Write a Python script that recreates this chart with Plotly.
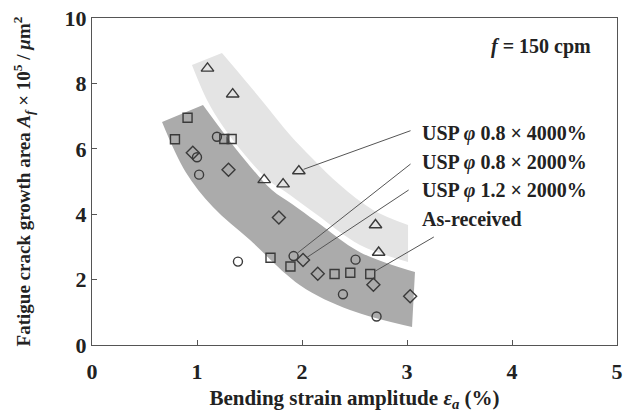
import plotly.graph_objects as go

# ---- data ----
strain_4000 = [1.10, 1.34, 1.64, 1.82, 1.97, 2.70, 2.73]
area_4000 = [8.46, 7.67, 5.05, 4.92, 5.32, 3.67, 2.83]

strain_08_2000 = [1.19, 1.00, 1.02, 1.39, 1.92, 2.51, 2.39, 2.71]
area_08_2000 = [6.37, 5.74, 5.21, 2.55, 2.72, 2.61, 1.55, 0.87]

strain_12_2000 = [0.96, 1.30, 1.78, 2.01, 2.15, 2.68, 3.03]
area_12_2000 = [5.88, 5.36, 3.90, 2.60, 2.18, 1.84, 1.49]

strain_asr = [0.91, 0.79, 1.26, 1.33, 1.70, 1.89, 2.31, 2.46, 2.65]
area_asr = [6.95, 6.29, 6.30, 6.30, 2.67, 2.40, 2.17, 2.21, 2.17]

# scatter bands (edges)
light_lower_x = [0.952, 1.095, 1.238, 1.457, 1.676, 1.886, 2.143, 2.552, 3.010]
light_lower_y = [8.56, 7.49, 6.73, 5.81, 5.05, 4.59, 3.98, 3.06, 2.54]
light_upper_x = [1.238, 1.457, 1.676, 1.886, 2.095, 2.362, 2.676, 3.010]
light_upper_y = [8.93, 8.10, 7.25, 6.42, 5.72, 4.89, 4.13, 3.67]

dark_lower_x = [0.667, 0.890, 1.152, 1.505, 1.981, 2.457, 3.048]
dark_lower_y = [6.82, 5.30, 4.22, 3.21, 1.83, 1.07, 0.55]
dark_upper_x = [1.057, 1.305, 1.505, 1.714, 1.905, 2.143, 2.552, 3.076]
dark_upper_y = [7.34, 6.27, 5.47, 4.74, 4.31, 3.76, 2.84, 2.23]

# labels with leader lines
label_texts = ["USP <i>φ</i> 0.8 × 4000%", "USP <i>φ</i> 0.8 × 2000%",
               "USP <i>φ</i> 1.2 × 2000%", "As-received"]
label_x = [3.124, 3.124, 3.124, 3.124]
label_y = [6.48, 5.57, 4.74, 3.85]
leader_tail_x = [3.048, 3.048, 3.03, 3.27]
leader_tail_y = [6.57, 5.57, 4.77, 3.33]
leader_head_x = [strain_4000[4], strain_08_2000[4], strain_12_2000[3], strain_asr[8]]
leader_head_y = [area_4000[4], area_08_2000[4], area_12_2000[3], area_asr[8]]

x_ticks = [0, 1, 2, 3, 4, 5]
y_ticks = [0, 2, 4, 6, 8, 10]

FONT = "Liberation Serif"
INK = "#222222"
MK = "#3a3a3a"

fig = go.Figure()

# light band
fig.add_trace(go.Scatter(x=light_lower_x, y=light_lower_y, mode="lines",
                         line=dict(width=0, shape="spline", color="rgba(0,0,0,0)"),
                         hoverinfo="skip", showlegend=False))
fig.add_trace(go.Scatter(x=light_upper_x, y=light_upper_y, mode="lines",
                         line=dict(width=0, shape="spline", color="rgba(0,0,0,0)"),
                         fill="tonexty", fillcolor="#e4e4e4",
                         hoverinfo="skip", showlegend=False))
# dark band
fig.add_trace(go.Scatter(x=dark_lower_x, y=dark_lower_y, mode="lines",
                         line=dict(width=0, shape="spline", color="rgba(0,0,0,0)"),
                         hoverinfo="skip", showlegend=False))
fig.add_trace(go.Scatter(x=dark_upper_x, y=dark_upper_y, mode="lines",
                         line=dict(width=0, shape="spline", color="rgba(0,0,0,0)"),
                         fill="tonexty", fillcolor="#ababab",
                         hoverinfo="skip", showlegend=False))

series = [
    ("USP φ0.8×4000%", strain_4000, area_4000, "triangle-up-open", 11),
    ("USP φ0.8×2000%", strain_08_2000, area_08_2000, "circle-open", 9),
    ("USP φ1.2×2000%", strain_12_2000, area_12_2000, "diamond-open", 10),
    ("As-received", strain_asr, area_asr, "square-open", 9),
]
for name, xs, ys, sym, sz in series:
    fig.add_trace(go.Scatter(x=xs, y=ys, mode="markers", name=name,
                             marker=dict(symbol=sym, size=sz, color=MK,
                                         line=dict(width=1.4, color=MK)),
                             showlegend=False))

# leader lines
for hx, hy, tx, ty in zip(leader_head_x, leader_head_y, leader_tail_x, leader_tail_y):
    fig.add_annotation(x=hx, y=hy, ax=tx, ay=ty, xref="x", yref="y",
                       axref="x", ayref="y", text="", showarrow=True,
                       arrowhead=0, arrowwidth=1, arrowcolor="#555555", standoff=5)

# labels
for t, lx, ly in zip(label_texts, label_x, label_y):
    fig.add_annotation(x=lx, y=ly, xref="x", yref="y", text=t, showarrow=False,
                       xanchor="left", yanchor="middle",
                       font=dict(family=FONT, size=20, color=INK, weight="bold"))

fig.add_annotation(x=0.955, y=0.913, xref="paper", yref="paper",
                   text="<i>f</i> = 150 cpm", showarrow=False,
                   xanchor="right", yanchor="middle",
                   font=dict(family=FONT, size=20, color=INK, weight="bold"))

axis_common = dict(showline=True, linecolor="#555555", linewidth=1.2, mirror=True,
                   ticks="inside", ticklen=5, tickcolor="#555555", tickwidth=1,
                   showgrid=False, zeroline=False, automargin=False,
                   ticklabeloverflow="allow",
                   tickfont=dict(family=FONT, size=22, color=INK, weight="bold"))

fig.update_xaxes(range=[0, 5], tickvals=x_ticks, ticklabelstandoff=6,
                 title=dict(text="Bending strain amplitude <i>ε<sub>a</sub></i> (%)",
                            font=dict(family=FONT, size=21, color=INK, weight="bold"),
                            standoff=8),
                 **axis_common)
fig.update_yaxes(range=[0, 10], tickvals=y_ticks,
                 title=dict(text="Fatigue crack growth area <i>A<sub>f</sub></i> × 10<sup>5</sup> / <i>μ</i>m<sup>2</sup>",
                            font=dict(family=FONT, size=19, color=INK, weight="bold"),
                            standoff=28),
                 **axis_common)

fig.update_layout(width=629, height=412,
                  margin=dict(l=92, r=12, t=18, b=67, autoexpand=False),
                  paper_bgcolor="white", plot_bgcolor="white",
                  font=dict(family=FONT, color=INK),
                  showlegend=False)

fig.write_html("out.html", config={"displayModeBar": False},
               post_script="document.body.style.margin='0';")
